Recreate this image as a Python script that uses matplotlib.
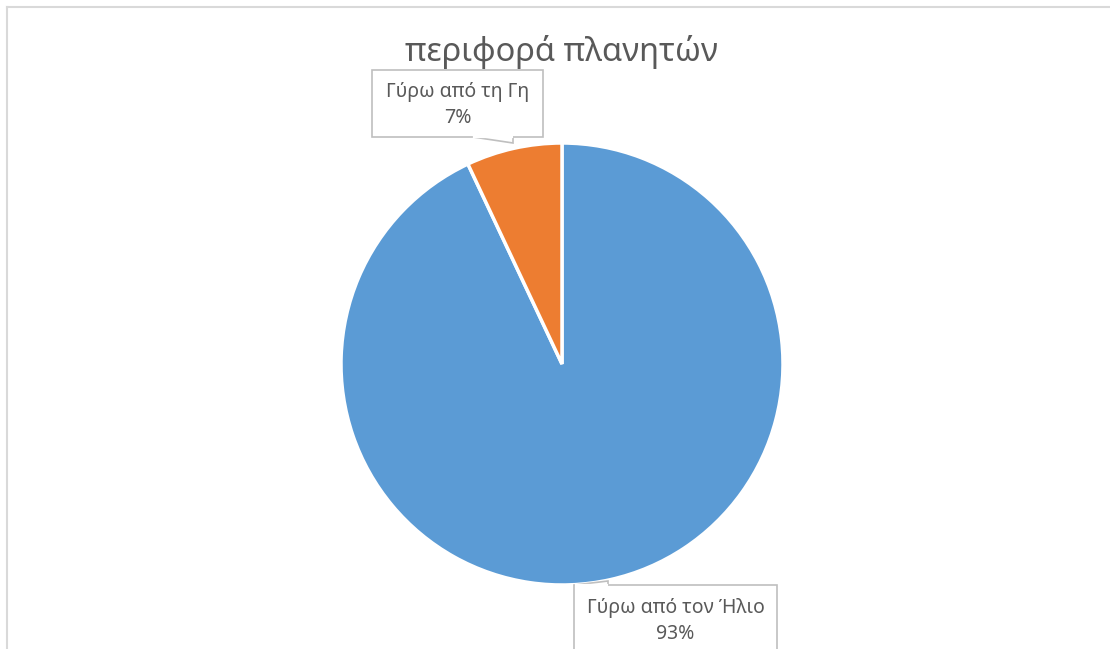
import matplotlib.pyplot as plt
from matplotlib.patches import Polygon

labels = ["Γύρω από τον Ήλιο", "Γύρω από τη Γη"]
shares = [93, 7]
colors = ["#5B9BD5", "#ED7D31"]
title = "περιφορά πλανητών"

W, H = 1110, 649
fig = plt.figure(figsize=(W / 100, H / 100), dpi=100)
fig.patch.set_facecolor("white")

def px(x, y):
    # pixel (from top-left) -> figure fraction
    return x / W, 1 - y / H

# chart area frame (only top and left edges fall inside the image)
fig.add_artist(plt.Line2D([7 / W, 7 / W], [0, 1 - 7 / H], color="#d9d9d9", lw=1.5))
fig.add_artist(plt.Line2D([7 / W, 1.01], [1 - 7 / H, 1 - 7 / H], color="#d9d9d9", lw=1.5))

cx, cy, r = 562, 364, 221
ax = fig.add_axes([(cx - r) / W, (H - cy - r) / H, 2 * r / W, 2 * r / H])
ax.pie(shares, colors=colors, startangle=90, counterclock=False,
       wedgeprops=dict(edgecolor="white", linewidth=2.5))
ax.set_aspect("equal")
ax.set_xlim(-1, 1)
ax.set_ylim(-1, 1)
ax.axis("off")

fig.text(*px(561, 52), title, ha="center", va="center", fontsize=23.5,
         color="#595959", family="Noto Sans")

# data callouts
def callout(box, tip, base, text, ty):
    x0, y0, x1, y1 = box
    pts = [px(x0, y0), px(x1, y0), px(x1, y1), px(x0, y1)]
    fig.add_artist(Polygon(pts, closed=True, transform=fig.transFigure,
                           facecolor="white", edgecolor="#bfbfbf", lw=1.2))
    tri = [px(*base[0]), px(*tip), px(*base[1])]
    fig.add_artist(Polygon(tri, closed=True, transform=fig.transFigure,
                           facecolor="white", edgecolor="#bfbfbf", lw=1.2))
    # hide the box edge under the pointer
    yb = base[0][1]
    fig.add_artist(plt.Line2D([px(*base[0])[0] + 0.001, px(*base[1])[0] - 0.001],
                              [1 - yb / H] * 2, color="white", lw=1.6))
    fig.text(*px((x0 + x1) / 2, ty), text, ha="center", va="center",
             fontsize=14, color="#595959", family="Noto Sans", linespacing=1.45)

callout((372, 70, 543, 137), (513, 143), [(473, 137), (513, 137)],
        f"{labels[1]}\n{shares[1]}%", 105)
callout((574, 585, 777, 680), (608, 581), [(575, 585), (608, 585)],
        f"{labels[0]}\n{shares[0]}%", 621)

fig.savefig("out.png", dpi=100, facecolor="white")
